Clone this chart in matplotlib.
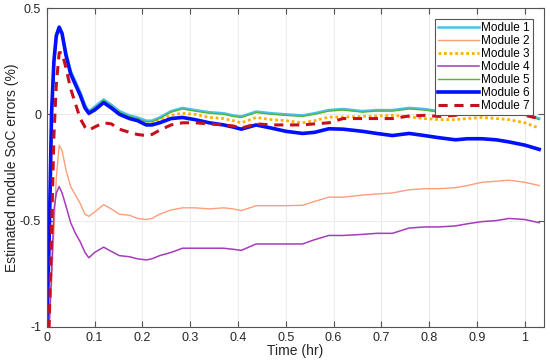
import matplotlib
matplotlib.use("Agg")
import matplotlib.pyplot as plt

plt.rcParams['font.family'] = ['Liberation Sans', 'DejaVu Sans']

# time (hr)
t = [0, 0.005, 0.01, 0.015, 0.02, 0.026, 0.032, 0.04, 0.05, 0.06,
     0.07, 0.08, 0.088, 0.1, 0.119, 0.135, 0.152, 0.173, 0.19, 0.208,
     0.22, 0.236, 0.26, 0.284, 0.31, 0.34, 0.37, 0.39, 0.407, 0.438,
     0.47, 0.5, 0.535, 0.56, 0.59, 0.62, 0.66, 0.69, 0.723, 0.758,
     0.79, 0.82, 0.855, 0.88, 0.91, 0.94, 0.967, 1.0, 1.03]

m1 = [-1.0, -0.6, 0.0, 0.245, 0.365, 0.405, 0.385, 0.295, 0.205, 0.155,
      0.105, 0.045, 0.015, 0.035, 0.07, 0.045, 0.015, -0.005, -0.015, -0.03,
      -0.03, -0.015, 0.015, 0.03, 0.02, 0.01, 0.005, -0.005, -0.01, 0.013,
      0.005, 0.0, -0.005, 0.005, 0.02, 0.025, 0.015, 0.02, 0.02, 0.03,
      0.025, 0.015, 0.02, 0.025, 0.03, 0.025, 0.02, 0.005, -0.02]
m2 = [-1.0, -1.0, -0.8, -0.55, -0.3, -0.146, -0.17, -0.26, -0.34, -0.38,
      -0.42, -0.47, -0.48, -0.46, -0.425, -0.445, -0.47, -0.475, -0.49, -0.495,
      -0.49, -0.47, -0.45, -0.44, -0.44, -0.445, -0.44, -0.445, -0.453, -0.43,
      -0.43, -0.43, -0.428, -0.41, -0.39, -0.39, -0.38, -0.375, -0.37, -0.355,
      -0.35, -0.35, -0.345, -0.335, -0.32, -0.315, -0.31, -0.32, -0.335]
m3 = [-1.0, -0.6, 0.0, 0.24, 0.36, 0.40, 0.37, 0.28, 0.19, 0.14,
      0.09, 0.03, 0.0, 0.02, 0.055, 0.03, 0.0, -0.02, -0.03, -0.045,
      -0.045, -0.025, -0.005, 0.005, 0.0, -0.015, -0.02, -0.03, -0.04, -0.015,
      -0.025, -0.03, -0.04, -0.03, -0.013, -0.013, -0.01, -0.008, -0.005, -0.012,
      -0.02, -0.025, -0.025, -0.02, -0.015, -0.02, -0.025, -0.04, -0.065]
m4 = [-1.0, -1.0, -0.75, -0.45, -0.37, -0.34, -0.37, -0.43, -0.51, -0.56,
      -0.6, -0.65, -0.675, -0.65, -0.625, -0.645, -0.665, -0.67, -0.68, -0.685,
      -0.68, -0.665, -0.65, -0.63, -0.63, -0.63, -0.63, -0.635, -0.64, -0.61,
      -0.61, -0.61, -0.61, -0.59, -0.57, -0.57, -0.565, -0.56, -0.56, -0.535,
      -0.53, -0.53, -0.525, -0.515, -0.505, -0.5, -0.49, -0.495, -0.51]
m5 = [-1.0, -0.6, 0.0, 0.24, 0.36, 0.40, 0.38, 0.29, 0.2, 0.15,
      0.1, 0.04, 0.01, 0.03, 0.065, 0.04, 0.01, -0.01, -0.02, -0.035,
      -0.035, -0.02, 0.01, 0.025, 0.015, 0.005, 0.0, -0.01, -0.015, 0.008,
      0.0, -0.005, -0.01, 0.0, 0.015, 0.02, 0.01, 0.015, 0.015, 0.025,
      0.02, 0.01, 0.015, 0.02, 0.025, 0.02, 0.015, 0.0, -0.025]
m6 = [-1.0, -0.6, 0.0, 0.25, 0.37, 0.41, 0.38, 0.28, 0.19, 0.14,
      0.09, 0.03, 0.005, 0.02, 0.055, 0.03, 0.0, -0.02, -0.03, -0.05,
      -0.05, -0.04, -0.02, -0.015, -0.025, -0.04, -0.05, -0.06, -0.07, -0.05,
      -0.065, -0.08, -0.09, -0.085, -0.068, -0.07, -0.08, -0.09, -0.1, -0.09,
      -0.1, -0.11, -0.12, -0.115, -0.115, -0.12, -0.13, -0.145, -0.165]
m7 = [-1.0, -1.0, -0.55, -0.1, 0.14, 0.29, 0.29, 0.22, 0.12, 0.05,
      -0.02, -0.06, -0.075, -0.06, -0.04, -0.045, -0.07, -0.085, -0.095, -0.1,
      -0.095, -0.075, -0.05, -0.04, -0.04, -0.045, -0.05, -0.055, -0.065, -0.045,
      -0.05, -0.05, -0.05, -0.045, -0.04, -0.02, -0.02, -0.02, -0.02, -0.008,
      -0.005, -0.01, -0.005, 0.005, 0.01, 0.01, 0.01, -0.005, -0.02]

xticks = [0, 0.1, 0.2, 0.3, 0.4, 0.5, 0.6, 0.7, 0.8, 0.9, 1]
xlabels = ['0', '0.1', '0.2', '0.3', '0.4', '0.5', '0.6', '0.7', '0.8', '0.9', '1']
yticks = [-1, -0.5, 0, 0.5]
ylabels = ['-1', '-0.5', '0', '0.5']

fig = plt.figure(figsize=(5.5, 3.64), dpi=100)
ax = fig.add_axes([0.085, 0.102, 0.904, 0.876])

ax.plot(t, m1, color='#4dbeee', lw=1.8, label='Module 1')
ax.plot(t, m2, color='#ff9e7a', lw=1.0, label='Module 2')
ax.plot(t, m3, color='#ffb000', lw=2.0, ls=(0, (1, 1)), label='Module 3')
ax.plot(t, m4, color='#a63bbb', lw=1.1, label='Module 4')
ax.plot(t, m5, color='#55b532', lw=1.0, label='Module 5')
ax.plot(t, m6, color='#0010ff', lw=2.6, label='Module 6')
ax.plot(t, m7, color='#c8101c', lw=2.2, ls=(0, (3, 2.2)), label='Module 7')

ax.set_xlim(0, 1.04)
ax.set_ylim(-1, 0.5)
ax.set_xticks(xticks)
ax.set_xticklabels(xlabels)
ax.set_yticks(yticks)
ax.set_yticklabels(ylabels)
ax.grid(True, color='#ececec', lw=0.8)
ax.set_axisbelow(True)
ax.tick_params(direction='in', length=4, color='#555555', labelsize=9,
               labelcolor='#262626', top=True, right=True, pad=4)
for s in ax.spines.values():
    s.set_color('#555555')
    s.set_linewidth(0.8)

ax.set_xlabel('Time (hr)', fontsize=10, color='#262626', labelpad=0)
ax.set_ylabel('Estimated module SoC errors (%)', fontsize=10, color='#262626', labelpad=1)

leg = ax.legend(loc='upper right', fontsize=8.5, handlelength=3.5, labelspacing=0.08,
                borderpad=0.3, handletextpad=0.15, fancybox=False, framealpha=1,
                borderaxespad=0.9)
leg.get_frame().set_edgecolor('#555555')
leg.get_frame().set_linewidth(0.8)

fig.savefig('out.png', dpi=100)
